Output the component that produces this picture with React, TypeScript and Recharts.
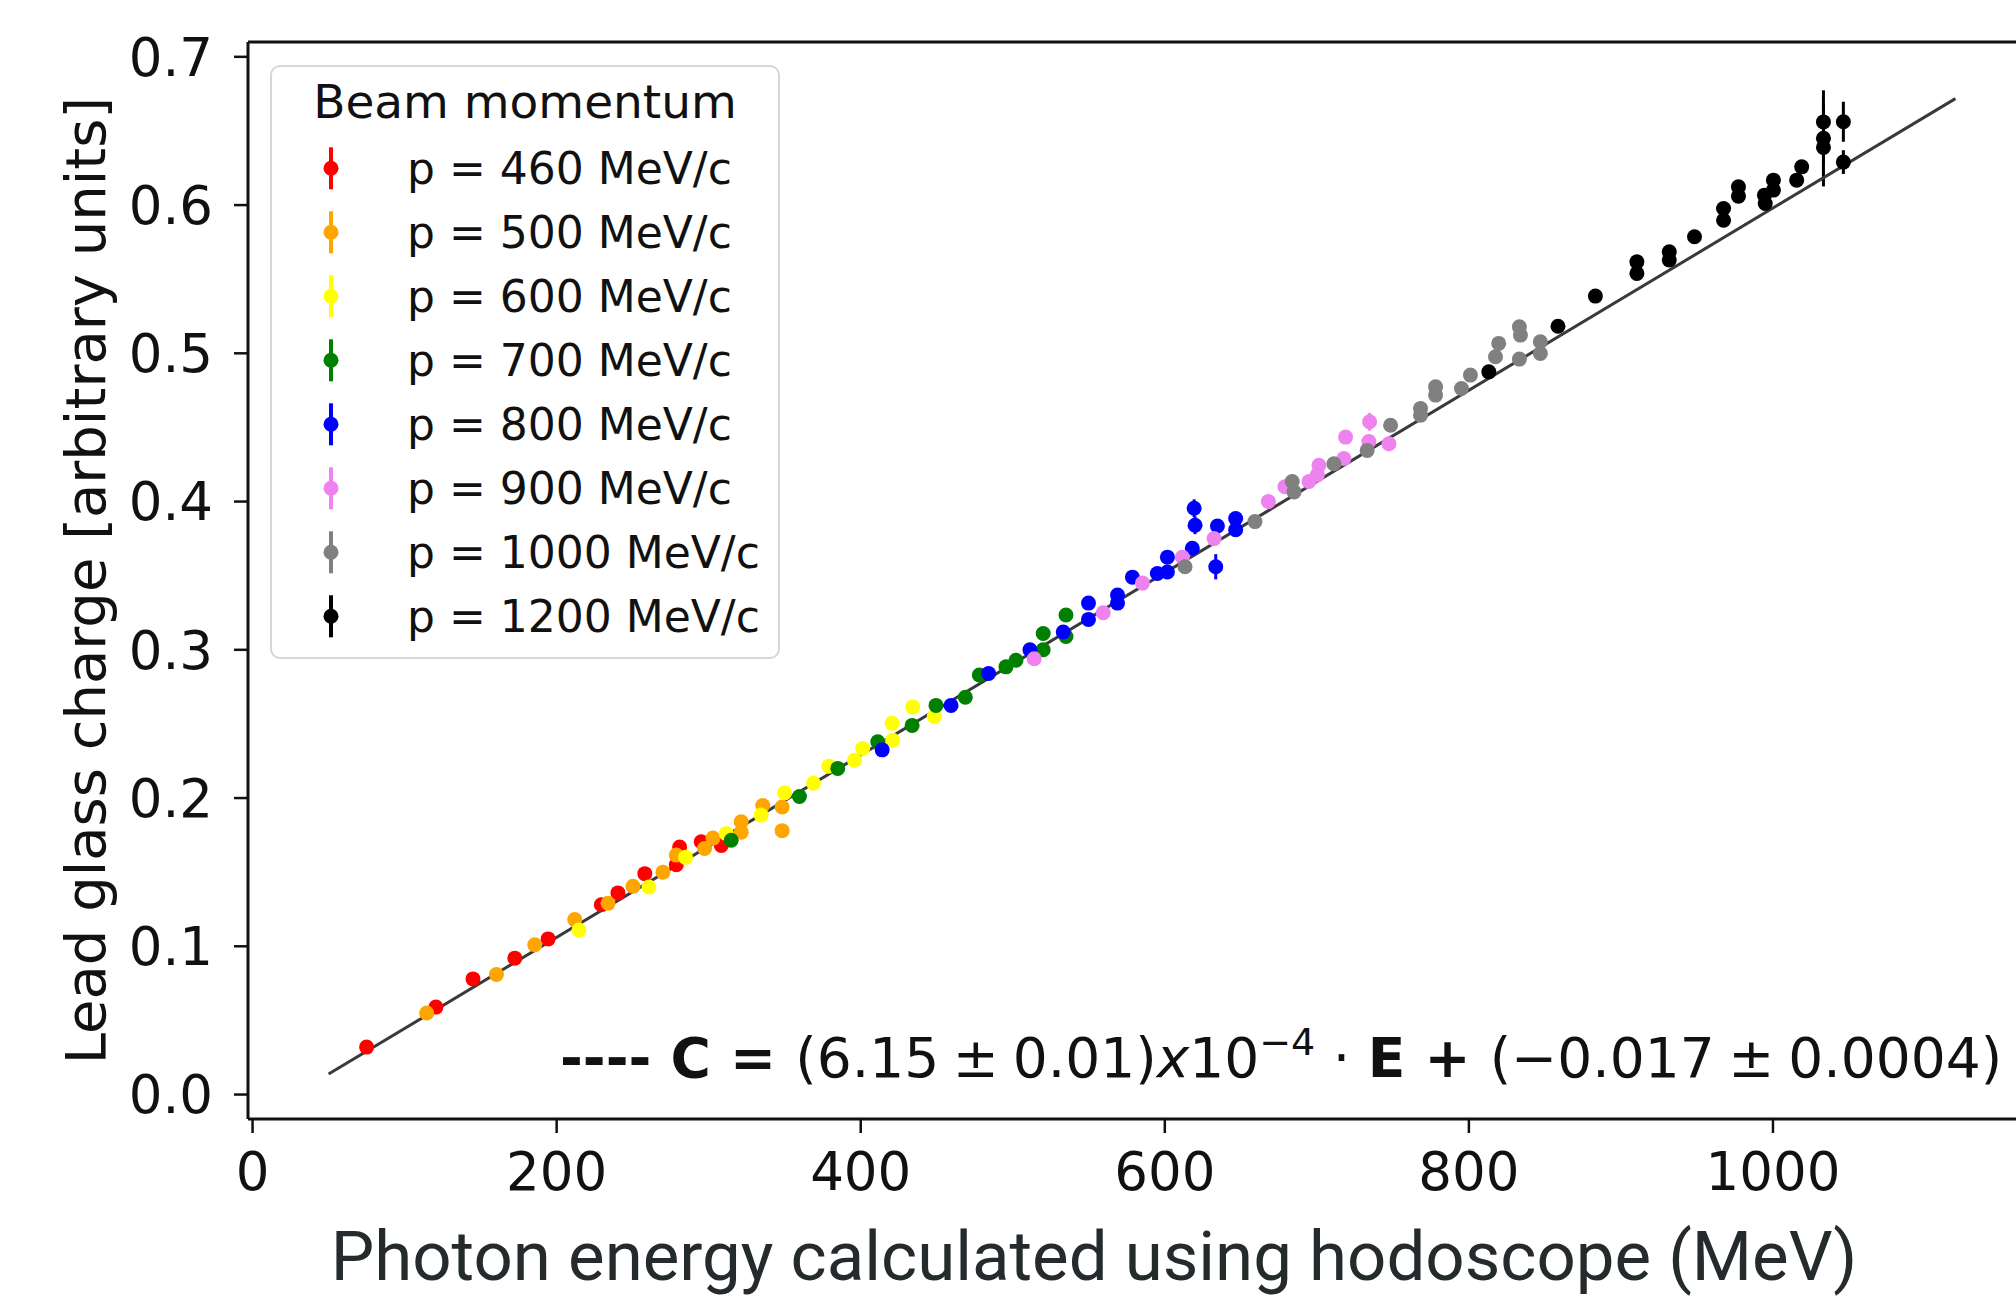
import React from 'react';
import {
  ScatterChart,
  Scatter,
  XAxis,
  YAxis,
  ErrorBar,
  Legend,
  ReferenceLine,
  Label,
  Customized,
} from 'recharts';

// [photon energy (MeV), lead glass charge, error]; error defaults to a tiny value
type Pt = [number, number, number?];

const p460: Pt[] = [
  [75, 0.032], [120.6, 0.059], [145, 0.078], [172.5, 0.092], [194.4, 0.105],
  [229.4, 0.128], [240.3, 0.136], [258, 0.149], [278.7, 0.155], [280.9, 0.167],
  [295.1, 0.1705], [308.3, 0.168],
];
const p500: Pt[] = [
  [114.5, 0.055], [160.4, 0.081], [185.6, 0.101], [211.9, 0.118], [233.8, 0.129],
  [250.2, 0.1405], [269.9, 0.15], [278.7, 0.1615], [297.3, 0.166], [302.8, 0.173],
  [321.4, 0.184], [321.4, 0.177], [335.6, 0.195], [348.3, 0.194], [348.3, 0.178],
];
const p600: Pt[] = [
  [214.7, 0.111], [260.7, 0.14], [284.8, 0.16], [311.6, 0.176], [334.5, 0.1885],
  [349.9, 0.2035], [368.9, 0.21], [379, 0.2215], [395.9, 0.2255], [401.3, 0.2335],
  [421, 0.239], [420.6, 0.2505], [434.2, 0.2615], [448.4, 0.255],
];
const p700: Pt[] = [
  [314.8, 0.1715], [359.7, 0.201], [384.9, 0.22], [411.2, 0.238], [433.8, 0.249],
  [449.5, 0.2625], [468.8, 0.268], [478, 0.283], [495.5, 0.2885], [502.1, 0.293],
  [520, 0.311], [520, 0.3], [535, 0.3235], [535, 0.309],
];
const p800: Pt[] = [
  [414.1, 0.2325], [459.4, 0.2625], [484.1, 0.284], [511.3, 0.3], [533.2, 0.312],
  [549.8, 0.3315], [549.8, 0.3205], [568.9, 0.337], [568.9, 0.3315], [578.7, 0.349],
  [595.1, 0.3515], [601.7, 0.3525], [601.7, 0.3625], [618.1, 0.3685],
  [619.3, 0.3955, 0.006], [619.9, 0.384, 0.006], [634.6, 0.3835], [633.5, 0.356, 0.0085],
  [646.6, 0.3885], [646.6, 0.381],
];
const p900: Pt[] = [
  [514.1, 0.294], [559.5, 0.325], [585.3, 0.345], [611.6, 0.3625], [632.4, 0.375],
  [668.1, 0.4], [679, 0.41], [694.8, 0.4135], [701.4, 0.4245], [700.3, 0.418],
  [718.9, 0.4435], [717.8, 0.429], [734.7, 0.4538, 0.006], [734.2, 0.4405],
  [747.4, 0.439, 0.005],
];
const p1000: Pt[] = [
  [613.3, 0.356], [659.3, 0.3865], [683.8, 0.4135], [685, 0.4065], [711.2, 0.4255],
  [733.1, 0.4345], [748.5, 0.4515], [768.2, 0.4628], [768.2, 0.4583], [778.1, 0.4774],
  [778.1, 0.4718], [795.1, 0.4763], [801, 0.4853], [817.5, 0.4977], [819.6, 0.5067],
  [833.2, 0.5179, 0.004], [833.9, 0.5123], [833.2, 0.4961], [847, 0.5078], [847, 0.4999],
];
const p1200: Pt[] = [
  [813.1, 0.4875], [858.6, 0.5183], [883.2, 0.5386], [910.5, 0.5617], [910.5, 0.5539],
  [931.8, 0.5685], [931.8, 0.5629], [948.4, 0.5786], [967.5, 0.5977], [967.5, 0.5898],
  [977.3, 0.6123], [977.3, 0.606], [994.4, 0.6067], [994.9, 0.6011], [1000.3, 0.6168],
  [1000.3, 0.6101], [1015.6, 0.6168], [1018.9, 0.6258], [1033.2, 0.6561, 0.012],
  [1033.2, 0.645, 0.0324], [1033.2, 0.6389, 0.01], [1046.3, 0.6562, 0.0135],
  [1046.3, 0.629, 0.008],
];

// fitted line C = 6.15e-4 * E - 0.017, endpoints
const fitLine = [
  { e: 50, c: 0.0138 },
  { e: 1120, c: 0.6718 },
];

const xTicks = [0, 200, 400, 600, 800, 1000];
const yTicks = [0, 0.1, 0.2, 0.3, 0.4, 0.5, 0.6, 0.7];

const series = [
  { name: 'p = 460 MeV/c', color: '#ff0000', pts: p460 },
  { name: 'p = 500 MeV/c', color: '#ffa500', pts: p500 },
  { name: 'p = 600 MeV/c', color: '#ffff00', pts: p600 },
  { name: 'p = 700 MeV/c', color: '#008000', pts: p700 },
  { name: 'p = 800 MeV/c', color: '#0000ff', pts: p800 },
  { name: 'p = 900 MeV/c', color: '#ee82ee', pts: p900 },
  { name: 'p = 1000 MeV/c', color: '#808080', pts: p1000 },
  { name: 'p = 1200 MeV/c', color: '#000000', pts: p1200 },
];

const FONT = 'DejaVu Sans';
const NARROW = '\u2005'; // four-per-em space, mathtext-like spacing around ±

// legend entries follow the plotting order of the series, not recharts' sorted payload
function BeamLegend() {
  return (
    <svg width={510} height={594} style={{ display: 'block' }}>
      <rect x={1} y={1} width={508} height={592} rx={9} fill="#fff" fillOpacity={0.85} stroke="#d6d6d6" strokeWidth={2} />
      <text x={255} y={53} textAnchor="middle" fontFamily={FONT} fontSize={47} fill="#111">
        Beam momentum
      </text>
      {series.map((s, i) => {
        const cy = 103.3 + i * 64;
        return (
          <g key={s.name}>
            <line x1={61} x2={61} y1={cy - 21} y2={cy + 21} stroke={s.color} strokeWidth={4} />
            <circle cx={61} cy={cy} r={7.5} fill={s.color} />
            <text x={137} y={cy + 16} fontFamily={FONT} fontSize={44} fill="#111">
              {s.name}
            </text>
          </g>
        );
      })}
    </svg>
  );
}

function FitNote() {
  return (
    <text x={560} y={1077} fontFamily={FONT} fontSize={55} fill="#111">
      <tspan fontWeight="bold">---- C = </tspan>
      <tspan>{`(6.15${NARROW}±${NARROW}0.01)`}</tspan>
      <tspan fontStyle="italic">x</tspan>
      <tspan>10</tspan>
      <tspan dy={-22} fontSize={38}>−4</tspan>
      <tspan dy={22}> · </tspan>
      <tspan fontWeight="bold">E + </tspan>
      <tspan>{`(−0.017${NARROW}±${NARROW}0.0004)`}</tspan>
    </text>
  );
}

export default function App() {
  return (
    <div
      style={{
        position: 'fixed',
        left: 0,
        top: 0,
        width: 2016,
        height: 1306,
        overflow: 'hidden',
        background: '#fff',
      }}
    >
      <ScatterChart width={2040} height={1306} margin={{ top: 42, right: 4, bottom: 0, left: 0 }}>
        <XAxis
          type="number"
          dataKey="e"
          domain={[-3, 1173]}
          ticks={xTicks}
          interval={0}
          allowDataOverflow
          height={187}
          tickSize={14}
          tickMargin={19}
          axisLine={{ stroke: '#111', strokeWidth: 3 }}
          tickLine={{ stroke: '#111', strokeWidth: 2.5 }}
          tick={{ fontFamily: FONT, fontSize: 53, fill: '#111' }}
        >
          <Label
            value="Photon energy calculated using hodoscope (MeV)"
            position="insideBottom"
            offset={26}
            dx={-48}
            fontFamily="Roboto"
            fontSize={69}
            fill="#252b2d"
          />
        </XAxis>
        <YAxis
          type="number"
          dataKey="c"
          domain={[-0.0165, 0.71]}
          ticks={yTicks}
          interval={0}
          allowDataOverflow
          width={248}
          tickSize={14}
          tickMargin={21}
          tickFormatter={(v: number) => v.toFixed(1)}
          axisLine={{ stroke: '#111', strokeWidth: 3 }}
          tickLine={{ stroke: '#111', strokeWidth: 2.5 }}
          tick={{ fontFamily: FONT, fontSize: 53, fill: '#111' }}
        >
          <Label
            value="Lead glass charge [arbitrary units]"
            angle={-90}
            position="insideLeft"
            offset={85}
            style={{ textAnchor: 'middle' }}
            fontFamily={FONT}
            fontSize={56}
            fill="#111"
          />
        </YAxis>
        <ReferenceLine y={0.71} stroke="#111" strokeWidth={3} />
        <Scatter
          data={fitLine}
          dataKey="c"
          line={{ stroke: '#3a3a3a', strokeWidth: 3 }}
          shape={() => <g />}
          legendType="none"
          isAnimationActive={false}
        />
        {series.map((s) => (
          <Scatter
            key={s.name}
            name={s.name}
            data={s.pts.map(([e, c, err]) => ({ e, c, err: err ?? 0.002 }))}
            dataKey="c"
            fill={s.color}
            isAnimationActive={false}
            shape={(props: any) => <circle cx={props.cx} cy={props.cy} r={7.5} fill={s.color} />}
          >
            <ErrorBar dataKey="err" direction="y" width={0} stroke={s.color} strokeWidth={3} isAnimationActive={false} />
          </Scatter>
        ))}
        <Legend
          layout="vertical"
          align="center"
          verticalAlign="middle"
          wrapperStyle={{ left: 270, top: 65, width: 510, height: 594 }}
          content={() => <BeamLegend />}
        />
        <Customized component={FitNote} />
      </ScatterChart>
    </div>
  );
}
